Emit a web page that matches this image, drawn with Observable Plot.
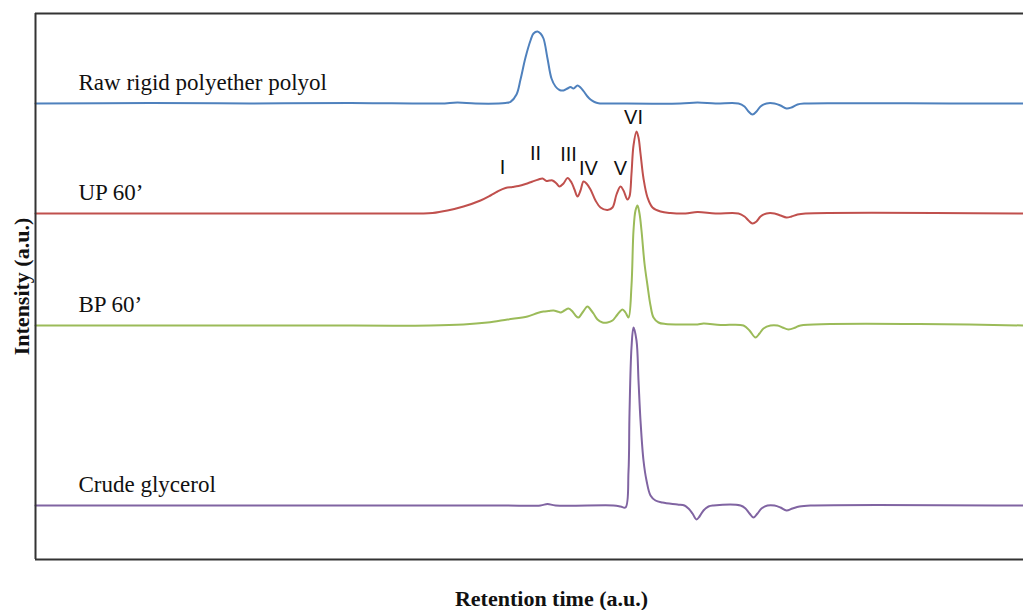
<!DOCTYPE html>
<html>
<head>
<meta charset="utf-8">
<script src="https://cdn.jsdelivr.net/npm/d3@7"></script>
<script src="https://cdn.jsdelivr.net/npm/@observablehq/plot@0.6"></script>
<style>
  html, body { margin: 0; padding: 0; background: #fff; overflow: hidden; }
</style>
</head>
<body>
<div id="chart"></div>
<script>
// ---- Data (retention time a.u., intensity a.u. above each trace's own baseline) ----
const seriesNames = ["Raw rigid polyether polyol", "UP 60\u2019", "BP 60\u2019", "Crude glycerol"];
const seriesOffsets = [456, 346, 234, 54];
const seriesColors = ["#4F81BD", "#C0504D", "#9BBB59", "#8064A2"];

const rawPolyol = [
  [35,0],[150,0.5],[250,0],[350,0.5],[440,0],[457,1],[475,0],[505,0.5],[510,1.7],[516,9],[520,24],[525,46],
  [530,63],[533,70],[537,72],[540,70],[543,65],[547,45],[551,25],[555,17],[559,13.5],[563,13],[567,15],
  [570,16.5],[573,15],[577,18],[580,16],[583,12.5],[587,7],[590,4],[594,1.5],[598,0.3],[620,0],[680,0],
  [697,1],[715,0],[738,0],[744,-3],[748,-8],[752,-11],[756,-8],[760,-3],[766,0],[774,0],[780,-2],[786,-5],
  [791,-4],[797,-1],[805,0],[850,0.3],[950,0],[1023,0]
];
const up60 = [
  [35,0],[200,0],[350,0],[420,0],[432,0.5],[447,3],[463,7],[480,13],[490,18],[497,22],[505,25.5],[512,26.5],
  [518,27.5],[525,29.5],[532,32],[538,34],[542,35],[546,32.5],[549,33],[552,33],[556,30],[559,27],[563,30],
  [567,35.5],[571,31],[574,24],[577,17],[580,23],[583,32],[586,30],[590,24],[595,13],[600,6],[607,3.5],
  [612,6],[616,19],[620,27],[623,23],[627,14],[629,17],[631,40],[633,68],[636,82],[638,76],[640,60],[643,35],
  [647,16],[652,6],[660,2],[670,0.5],[685,0],[697,1.5],[715,0],[738,0],[744,-3],[748,-7],[752,-10],[756,-8],
  [760,-3],[766,0],[774,0],[780,-2],[786,-4],[791,-3],[797,-1],[805,0],[1023,0]
];
const bp60 = [
  [35,0],[300,0],[430,0],[463,1],[487,3],[507,6],[527,9],[537,12.5],[543,14],[548,14.5],[553,15],[557,14],
  [560,13],[564,15],[568,17],[572,14],[575,10],[578,8],[582,13],[587,19],[590,16],[593,12],[597,6],[602,3],
  [607,3],[612,5],[617,11],[622,16],[625,13],[628,8],[631,40],[633,95],[635,115],[637,120],[639,112],[641,95],
  [644,62],[647,40],[650,20],[653,8],[658,3],[665,1.5],[685,1],[697,1],[703,2],[720,0.5],[743,0],[749,-5],
  [755,-12],[759,-8],[763,-3],[770,0],[777,0],[782,-2],[788,-4],[795,-2],[800,0],[1023,0]
];
const crudeGlycerol = [
  [35,0],[300,0],[500,0],[540,0],[547,1.5],[555,0],[613,0],[620,-1],[625,-2],[628,34],[629,92],[631,158],
  [633,178],[636,165],[638,125],[640,85],[643,45],[646,25],[650,10],[655,5],[662,3],[677,1],[684,0],[688,-3],
  [692,-8],[696,-14],[699,-11],[703,-5],[708,-1],[713,0],[740,0],[745,-3],[749,-8],[753,-12],[757,-8],
  [761,-3],[767,0],[774,0],[780,-2],[786,-5],[792,-3],[799,-1],[810,0],[1023,0]
];
const seriesPoints = [rawPolyol, up60, bp60, crudeGlycerol];

// peak labels on the UP 60' trace
const peakLabels = ["I", "II", "III", "IV", "V", "VI"];
const peakTimes = [502, 535, 568, 588, 620, 633];
const peakHeights = [46, 60, 59, 45, 45, 96];

const xDomain = [35, 1023];
const yDomain = [0, 546];

// ---- Build tables ----
const traces = seriesPoints.flatMap((pts, i) =>
  pts.map(([t, h]) => ({ series: seriesNames[i], t, y: seriesOffsets[i] + h }))
);
const traceLabels = seriesNames.map((name, i) => ({ name, t: 78, y: seriesOffsets[i] + 14 }));
const peaks = peakLabels.map((lab, i) => ({ lab, t: peakTimes[i], y: seriesOffsets[1] + peakHeights[i] }));

const chart = Plot.plot({
  width: 1023,
  height: 610,
  marginLeft: 35,
  marginRight: 0,
  marginTop: 13,
  marginBottom: 51,
  style: { background: "#fff", overflow: "visible" },
  x: { domain: xDomain, axis: null },
  y: { domain: yDomain, axis: null },
  color: { domain: seriesNames, range: seriesColors },
  marks: [
    Plot.line(traces, {
      x: "t", y: "y", z: "series", stroke: "series",
      strokeWidth: 2, curve: "catmull-rom"
    }),
    Plot.ruleY([yDomain[0], yDomain[1]], { stroke: "#333", strokeWidth: 2 }),
    Plot.ruleX([xDomain[0]], { stroke: "#333", strokeWidth: 2 }),
    Plot.text(traceLabels, {
      x: "t", y: "y", text: "name", textAnchor: "start", lineAnchor: "bottom",
      fontFamily: "Liberation Serif", fontSize: 23, fill: "#111"
    }),
    Plot.text(peaks, {
      x: "t", y: "y", text: "lab", textAnchor: "middle", lineAnchor: "middle",
      fontFamily: "Liberation Sans", fontSize: 20, fill: "#111"
    }),
    Plot.text(["Retention time (a.u.)"], {
      frameAnchor: "bottom", textAnchor: "middle", dx: 22, dy: 39, lineAnchor: "middle",
      fontFamily: "Liberation Serif", fontWeight: "bold", fontSize: 22, fill: "#111"
    }),
    Plot.text(["Intensity (a.u.)"], {
      frameAnchor: "left", textAnchor: "middle", dx: -14, rotate: -90, lineAnchor: "middle",
      fontFamily: "Liberation Serif", fontWeight: "bold", fontSize: 22, fill: "#111"
    })
  ]
});

document.getElementById("chart").appendChild(chart);
</script>
</body>
</html>
